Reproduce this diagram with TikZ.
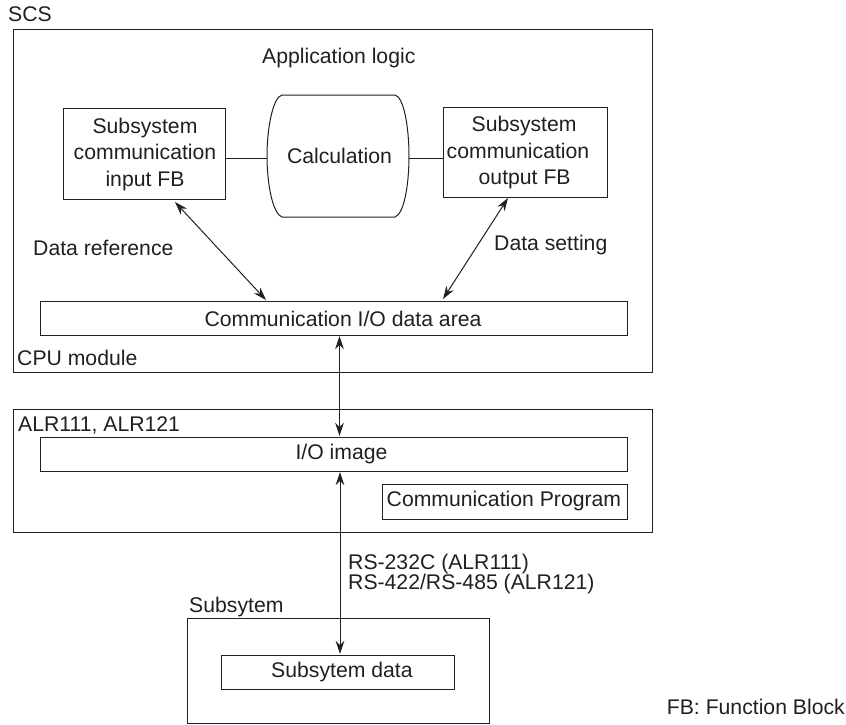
\documentclass[tikz,border=0pt]{standalone}
\usepackage{fontspec}
\setmainfont{Liberation Sans}
\usetikzlibrary{arrows.meta}
\definecolor{ink}{HTML}{231F20}
\begin{document}
\begin{tikzpicture}[x=1pt,y=-1pt,
 box/.style={draw=ink,line width=1pt,fill=none,inner sep=0pt,anchor=north west},
 txt/.style={inner sep=0pt,text=ink,font=\fontsize{21.2}{26.5}\selectfont,align=center},
 lnk/.style={draw=ink,line width=1pt},
 arr/.style={draw=ink,line width=1pt,{Stealth[length=13pt,width=8.5pt]}-{Stealth[length=13pt,width=8.5pt]}}]
\useasboundingbox (0,0) rectangle (846,724);
\fill[white] (0,0) rectangle (846,724);
\node[box,minimum width=639pt,minimum height=343pt] (scs) at (12.5,29) {};
\node[box,minimum width=639pt,minimum height=123pt] (alr) at (12.5,409) {};
\node[box,minimum width=302pt,minimum height=105pt] (sub) at (187,618) {};
\node[box,minimum width=162pt,minimum height=91pt] (in) at (62.5,108) {};
\node[box,minimum width=164pt,minimum height=90pt] (out) at (442.5,107) {};
\draw[lnk] (282,95) -- (395,95) .. controls (404,97) and (409,128) .. (409,156) .. controls (409,185) and (404,214) .. (395,217) -- (282,217) .. controls (273,214) and (267,185) .. (267,156) .. controls (267,128) and (273,97) .. (282,95) -- cycle;
\coordinate (calcL) at (267,158);
\coordinate (calcR) at (409,158);
\node[box,minimum width=587.5pt,minimum height=34pt] (area) at (39.5,301) {};
\node[box,minimum width=587.5pt,minimum height=34pt] (img) at (39.5,437) {};
\node[box,minimum width=245pt,minimum height=35pt] (prog) at (382,484) {};
\node[box,minimum width=233pt,minimum height=34pt] (data) at (221,655) {};
\draw[lnk] (225.5,158) -- (calcL);
\draw[lnk] (calcR) -- (out.west|-calcR);
\coordinate (a1) at (175,202);
\coordinate (a2) at (266,300);
\coordinate (b1) at (508,198);
\coordinate (b2) at (443,299);
\draw[arr] (a1) -- (a2);
\draw[arr] (b1) -- (b2);
\coordinate (c1) at (339.5,336);
\coordinate (c2) at (339.5,436);
\coordinate (c3) at (340,472);
\coordinate (c4) at (340,654);
\draw[arr] (c1) -- (c2);
\draw[arr] (c3) -- (c4);
\node[txt,anchor=west] (t1) at (8,14) {SCS};
\node[txt,anchor=west] (t2) at (262,58) {Application logic};
\node[txt] (t3) at (145,154.5) {Subsystem\\communication\\input FB};
\node[txt] (t4) at (339.5,156) {Calculation};
\node[txt,align=left,anchor=west] (t5) at (446.5,153) {\hspace*{25pt}Subsystem\\communication\\\hspace*{32pt}output FB};
\node[txt,anchor=west] (t6) at (33,248) {Data reference};
\node[txt,anchor=west] (t7) at (494,245) {Data setting};
\node[txt] (t8) at (343,319) {Communication I/O data area};
\node[txt,anchor=west] (t9) at (17,358) {CPU module};
\node[txt,anchor=west] (t10) at (18,425) {ALR111, ALR121};
\node[txt] (t11) at (341.5,454) {I/O image};
\node[txt,anchor=west] (t12) at (386.5,501) {Communication Program};
\node[txt,anchor=west,align=left,font=\fontsize{21.2}{20}\selectfont] (t13) at (348,574) {RS-232C (ALR111)\\RS-422/RS-485 (ALR121)};
\node[txt,anchor=west] (t14) at (189,607) {Subsytem};
\node[txt,anchor=west] (t15) at (271,672) {Subsytem data};
\node[txt,anchor=east] (t16) at (845,707) {FB: Function Block};
\end{tikzpicture}
\end{document}
